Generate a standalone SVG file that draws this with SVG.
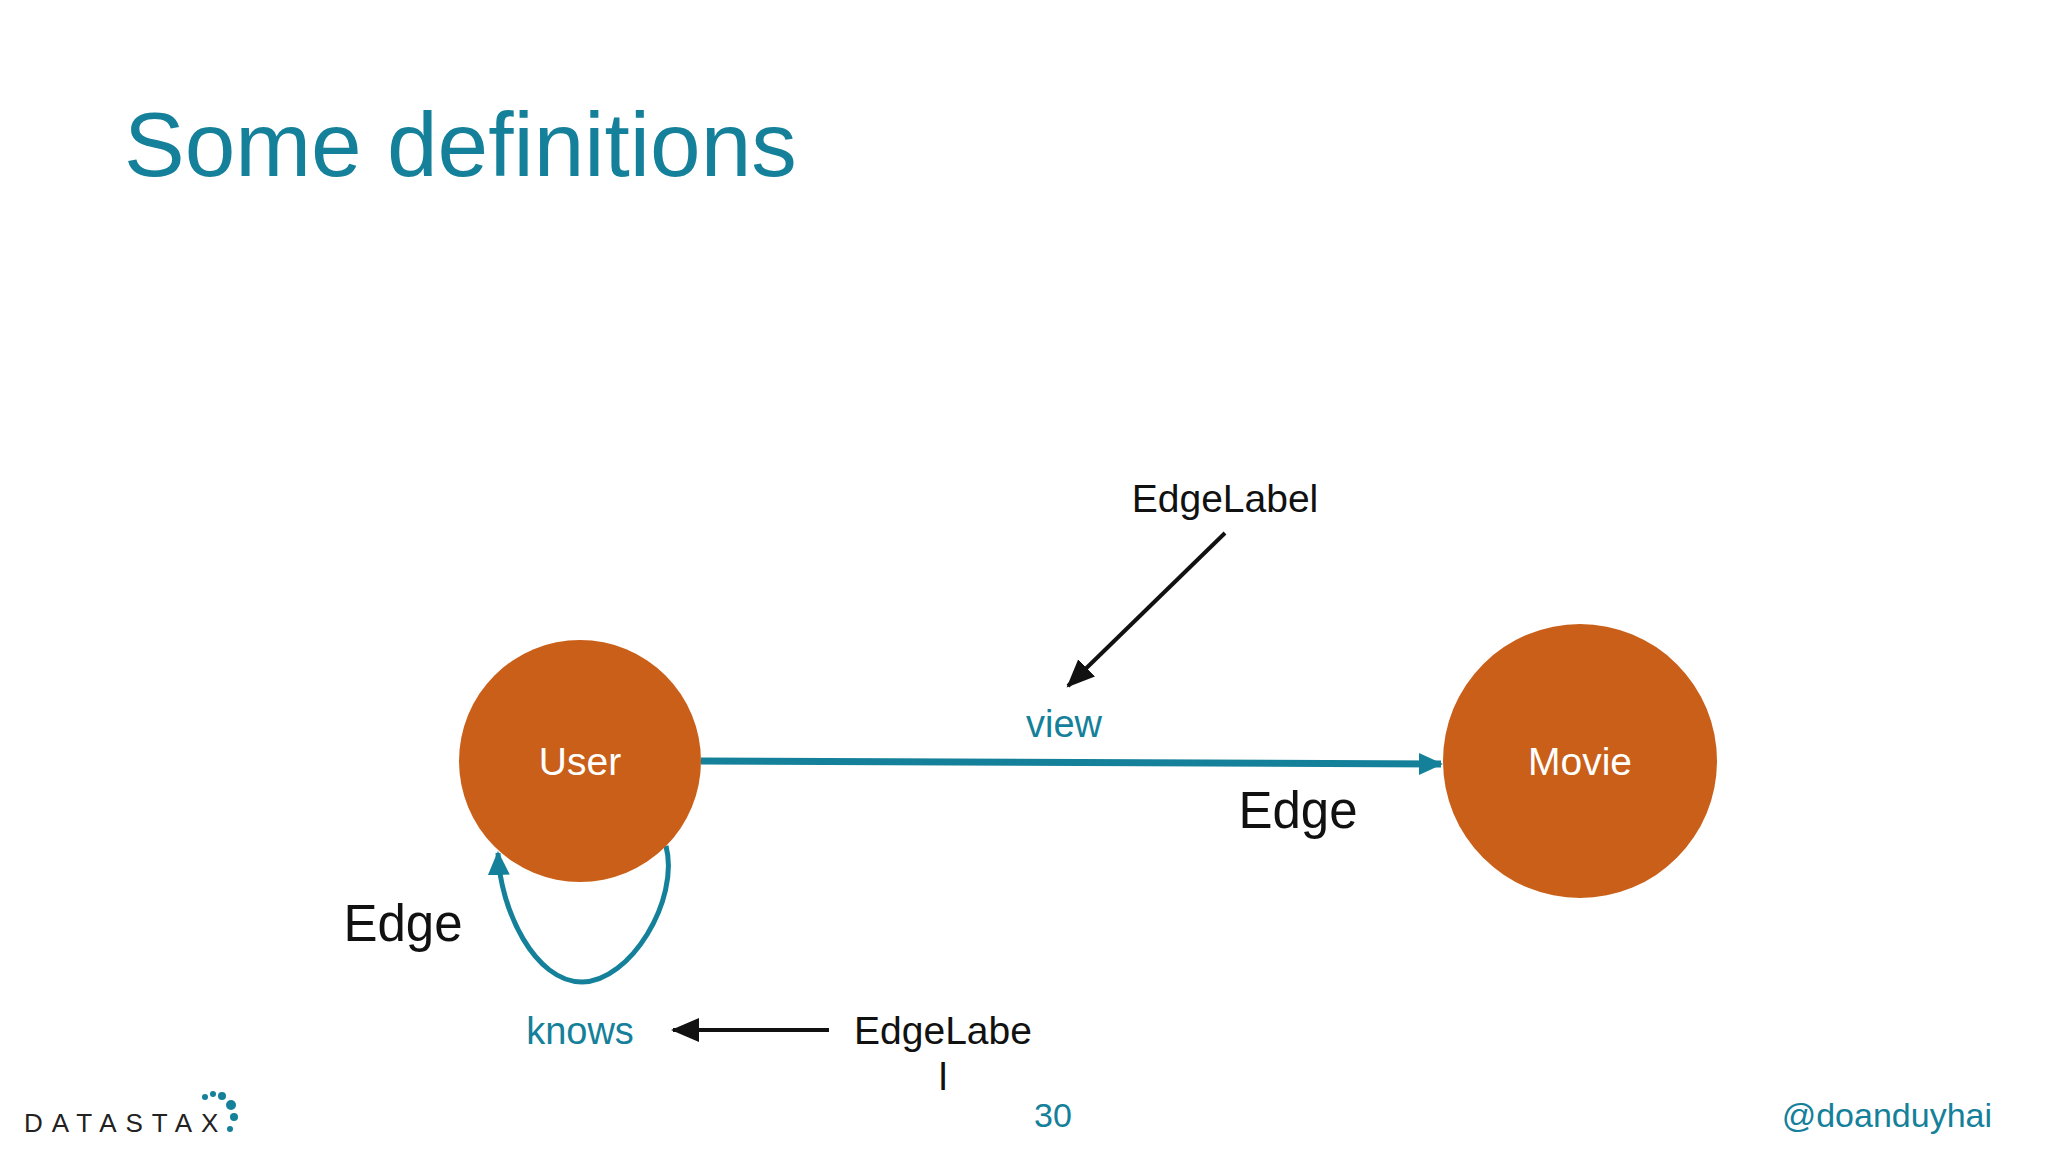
<svg xmlns="http://www.w3.org/2000/svg" width="2048" height="1152" viewBox="0 0 2048 1152">
<defs>
<style>
text{font-family:"Liberation Sans",Arial,sans-serif}
.teal{fill:#14809a}
.blk{fill:#111}
.node{fill:#c95f18}
.nl{fill:#fff;font-size:39px;text-anchor:middle}
</style>
<marker id="at" markerWidth="26" markerHeight="26" refX="22" refY="13" orient="auto" markerUnits="userSpaceOnUse"><path d="M0,2L24,13L0,24z" fill="#14809a"/></marker>
<marker id="ak" markerWidth="30" markerHeight="30" refX="26" refY="15" orient="auto" markerUnits="userSpaceOnUse"><path d="M0,3L28,15L0,27z" fill="#111"/></marker>
</defs>
<rect width="2048" height="1152" fill="#fff"/>
<text x="124" y="176" font-size="91" class="teal">Some definitions</text>
<g id="connectors" fill="none">
<path d="M701,761 L1441,764" stroke="#14809a" stroke-width="7" marker-end="url(#at)"/>
<path d="M666,846 C680,900 630,982 582,982 C535,982 500,910 498,853" stroke="#14809a" stroke-width="5" marker-end="url(#at)"/>
<path d="M1225,533 L1068,686" stroke="#111" stroke-width="4" marker-end="url(#ak)"/>
<path d="M829,1030 L673,1030" stroke="#111" stroke-width="4" marker-end="url(#ak)"/>
</g>
<g id="user"><circle cx="580" cy="761" r="121" class="node"/><text x="580" y="775" class="nl">User</text></g>
<g id="movie"><circle cx="1580" cy="761" r="137" class="node"/><text x="1580" y="775" class="nl">Movie</text></g>
<g id="labels">
<text x="1064" y="737" font-size="38" text-anchor="middle" class="teal">view</text>
<text x="1298" y="828" font-size="51" text-anchor="middle" class="blk">Edge</text>
<text x="1225" y="512" font-size="39" text-anchor="middle" class="blk">EdgeLabel</text>
<text x="403" y="941" font-size="51" text-anchor="middle" class="blk">Edge</text>
<text x="580" y="1044" font-size="38" text-anchor="middle" class="teal">knows</text>
<text x="943" y="1044" font-size="39" text-anchor="middle" class="blk">EdgeLabe</text>
<text x="943" y="1090" font-size="39" text-anchor="middle" class="blk">l</text>
</g>
<text x="1053" y="1127" font-size="34" text-anchor="middle" class="teal">30</text>
<text x="1992" y="1127" font-size="34" text-anchor="end" class="teal">@doanduyhai</text>
<text x="24" y="1132" font-size="26" letter-spacing="9" fill="#222">DATASTAX</text>
<g fill="#14809a"><circle cx="205" cy="1097" r="3"/><circle cx="213" cy="1094" r="3"/><circle cx="222" cy="1096" r="4"/><circle cx="231" cy="1105" r="5"/><circle cx="234" cy="1117" r="4"/><circle cx="230" cy="1129" r="3"/></g>
</svg>
